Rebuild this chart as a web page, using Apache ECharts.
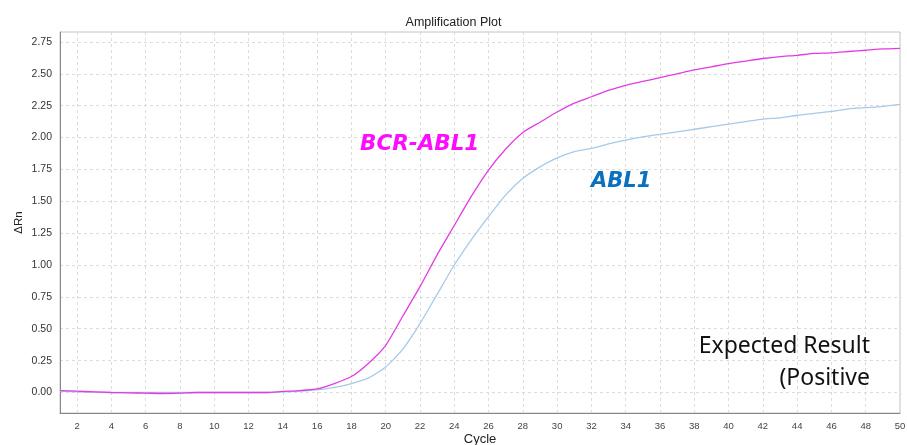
<!DOCTYPE html>
<html>
<head>
<meta charset="utf-8">
<script src="https://cdn.jsdelivr.net/npm/echarts@6/dist/echarts.min.js"></script>
<style>html,body{margin:0;padding:0;background:#fff}#c{width:907px;height:445px}</style>
</head>
<body>
<div id="c"></div>
<script>
const cycles = [1,2,3,4,5,6,7,8,9,10,11,12,13,14,15,16,17,18,19,20,21,22,23,24,25,26,27,28,29,30,31,32,33,34,35,36,37,38,39,40,41,42,43,44,45,46,47,48,49,50];
const bcrAbl1 = [0.015,0.01,0.005,0.0,-0.003,-0.005,-0.008,-0.005,0,0,0,0,0,0.008,0.015,0.028,0.07,0.125,0.23,0.37,0.6,0.83,1.08,1.31,1.54,1.745,1.91,2.04,2.12,2.2,2.27,2.32,2.37,2.41,2.44,2.47,2.5,2.53,2.555,2.58,2.6,2.62,2.635,2.645,2.66,2.665,2.675,2.685,2.695,2.7];
const abl1 = [0.01,0.005,0.003,0,0,0,0,0,0,0,0,0,0,0.004,0.01,0.02,0.04,0.07,0.115,0.2,0.34,0.54,0.77,1.0,1.2,1.38,1.55,1.68,1.77,1.84,1.89,1.915,1.95,1.98,2.005,2.025,2.045,2.065,2.085,2.105,2.125,2.145,2.155,2.175,2.19,2.205,2.225,2.235,2.245,2.26];
const xTicks = [2,4,6,8,10,12,14,16,18,20,22,24,26,28,30,32,34,36,38,40,42,44,46,48,50];
const yTicks = [0,0.25,0.5,0.75,1,1.25,1.5,1.75,2,2.25,2.5,2.75];

const chart = echarts.init(document.getElementById('c'));
chart.setOption({
  animation: false,
  title: {text: 'Amplification Plot', left: 'center', top: 11, textStyle: {fontFamily: 'Liberation Sans', fontSize: 12.5, fontWeight: 'normal', color: '#222'}},
  grid: {left: 60, right: 7, top: 32, bottom: 32, show: true, borderColor: '#c4c4c4', borderWidth: 1, containLabel: false, outerBoundsMode: 'none'},
  xAxis: {
    type: 'value', min: 1, max: 50,
    name: 'Cycle', nameLocation: 'middle', nameGap: 20, nameMoveOverlap: false,
    nameTextStyle: {fontFamily: 'Liberation Sans', fontSize: 13, color: '#222'},
    axisLine: {show: true, onZero: false, lineStyle: {color: '#888'}},
    axisTick: {show: false, customValues: xTicks},
    axisLabel: {customValues: xTicks, fontFamily: 'Liberation Sans', fontSize: 9.5, color: '#444', margin: 8},
    splitLine: {show: true, lineStyle: {type: [3, 3], color: '#dcdcdc'}}
  },
  yAxis: {
    type: 'value', min: -0.161, max: 2.828,
    name: 'ΔRn', nameLocation: 'middle', nameGap: 35, nameRotate: 90, nameMoveOverlap: false,
    nameTextStyle: {fontFamily: 'Liberation Sans', fontSize: 11.5, color: '#222'},
    axisLine: {show: true, onZero: false, lineStyle: {color: '#888'}},
    axisTick: {show: false, customValues: yTicks},
    axisLabel: {customValues: yTicks, formatter: v => v.toFixed(2), fontFamily: 'Liberation Sans', fontSize: 10.5, color: '#333', margin: 8},
    splitLine: {show: true, lineStyle: {type: [3, 3], color: '#dcdcdc'}}
  },
  series: [
    {name: 'ABL1', type: 'line', data: cycles.map((c, i) => [c, abl1[i]]), showSymbol: false, smooth: 0.2, lineStyle: {color: '#a7c9ea', width: 1.3}, z: 2},
    {name: 'BCR-ABL1', type: 'line', data: cycles.map((c, i) => [c, bcrAbl1[i]]), showSymbol: false, smooth: 0.2, lineStyle: {color: '#e33be3', width: 1.3}, z: 3}
  ],
  graphic: [
    {type: 'text', z: 10, style: {x: 360, y: 144, text: 'BCR-ABL1', fill: '#ff0cff', font: 'italic bold 21.5px "DejaVu Sans"', verticalAlign: 'middle', align: 'left'}},
    {type: 'text', z: 10, style: {x: 591, y: 182, text: 'ABL1', fill: '#0a70c0', font: 'italic bold 21px "DejaVu Sans"', verticalAlign: 'middle', align: 'left'}},
    {type: 'text', z: 10, style: {x: 870, y: 346, text: 'Expected Result', fill: '#111', font: '23px "Noto Sans"', verticalAlign: 'middle', align: 'right'}},
    {type: 'text', z: 10, style: {x: 870, y: 378, text: '(Positive', fill: '#111', font: '23px "Noto Sans"', verticalAlign: 'middle', align: 'right'}}
  ]
});
</script>
</body>
</html>
